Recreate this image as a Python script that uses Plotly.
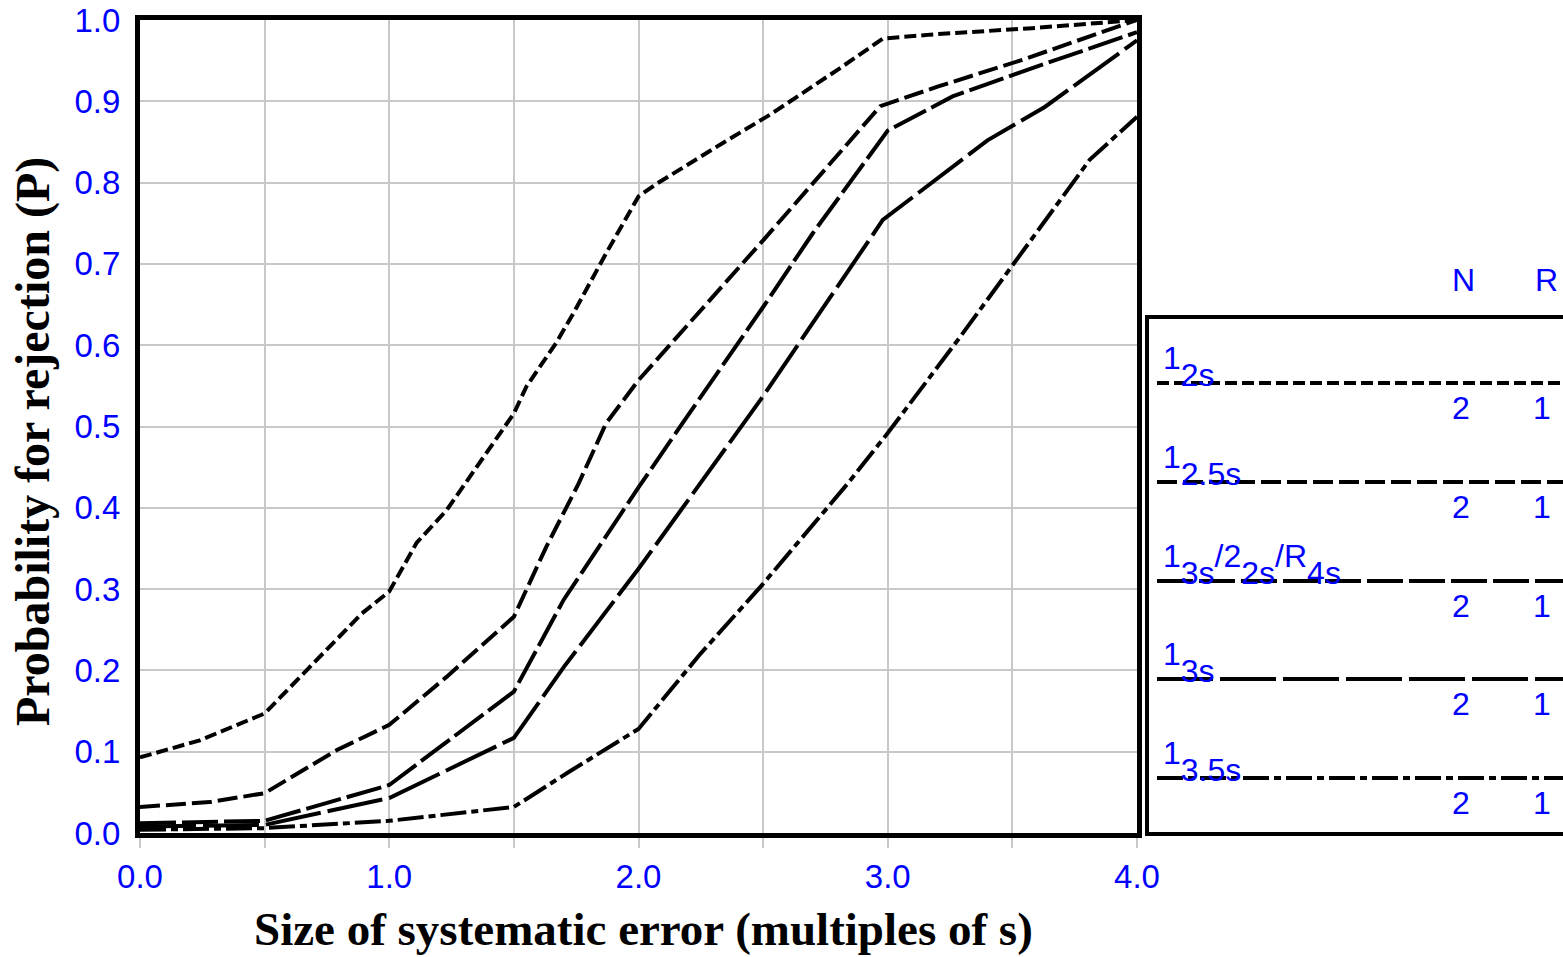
import plotly.graph_objects as go

# ---------------- data ----------------
x_12s = [0, 0.24, 0.5, 0.89, 1.0, 1.11, 1.23, 1.37, 1.5, 1.55, 1.67, 1.74, 1.87, 2.0, 2.07, 2.34, 2.53, 2.80, 2.98, 3.17, 3.33, 3.58, 4.0]
y_12s = [0.093, 0.114, 0.147, 0.27, 0.297, 0.357, 0.397, 0.459, 0.516, 0.549, 0.603, 0.64, 0.713, 0.783, 0.798, 0.849, 0.884, 0.939, 0.977, 0.982, 0.985, 0.99, 1.0]

x_125s = [0, 0.28, 0.5, 0.6, 0.79, 1.0, 1.23, 1.5, 1.63, 1.76, 1.87, 2.0, 2.5, 2.97, 3.2, 3.53, 4.0]
y_125s = [0.032, 0.038, 0.049, 0.067, 0.102, 0.133, 0.192, 0.266, 0.352, 0.43, 0.504, 0.557, 0.729, 0.894, 0.918, 0.95, 1.0]

x_multi = [0, 0.5, 1.0, 1.5, 1.7, 2.0, 2.19, 2.5, 2.7, 3.0, 3.26, 3.6, 4.0]
y_multi = [0.012, 0.015, 0.059, 0.174, 0.287, 0.425, 0.51, 0.647, 0.738, 0.864, 0.906, 0.943, 0.985]

x_13s = [0, 0.5, 1.0, 1.5, 1.7, 2.0, 2.17, 2.49, 2.98, 3.4, 3.63, 4.0]
y_13s = [0.008, 0.01, 0.043, 0.117, 0.204, 0.325, 0.397, 0.533, 0.754, 0.852, 0.893, 0.975]

x_135s = [0, 0.5, 1.0, 1.5, 1.72, 2.0, 2.25, 2.49, 2.84, 3.0, 3.29, 3.48, 3.81, 4.0]
y_135s = [0.004, 0.006, 0.015, 0.032, 0.075, 0.128, 0.221, 0.303, 0.43, 0.492, 0.61, 0.689, 0.828, 0.881]

rule_labels = ["1_2s", "1_2.5s", "1_3s/2_2s/R_4s", "1_3s", "1_3.5s"]
n_values = ["2", "2", "2", "2", "2"]
r_values = ["1", "1", "1", "1", "1"]

x_tickvals = [0, 0.5, 1.0, 1.5, 2.0, 2.5, 3.0, 3.5, 4.0]
x_ticktext = ["0.0", "", "1.0", "", "2.0", "", "3.0", "", "4.0"]
y_tickvals = [0, 0.1, 0.2, 0.3, 0.4, 0.5, 0.6, 0.7, 0.8, 0.9, 1.0]
y_ticktext = ["0.0", "0.1", "0.2", "0.3", "0.4", "0.5", "0.6", "0.7", "0.8", "0.9", "1.0"]

# ---------------- styles ----------------
series = [
    (x_12s, y_12s, "12px,5px"),
    (x_125s, y_125s, "20px,6px"),
    (x_multi, y_multi, "36px,6px"),
    (x_13s, y_13s, "56px,7px"),
    (x_135s, y_135s, "26px,5px,7px,5px"),
]

BLUE = "#0000ff"
SANS = "Liberation Sans, Arial, sans-serif"
SERIF = "Liberation Serif, Times New Roman, serif"
TICK_SIZE = 33
LEG_SIZE = 32
W, H = 1563, 957
L, R, T, B = 140, 1137, 20, 833


def px(x):
    return (x - L) / (R - L)


def py(y):
    return (B - y) / (B - T)


fig = go.Figure()
for xs, ys, dash in series:
    fig.add_trace(go.Scatter(x=xs, y=ys, mode="lines",
                             line=dict(color="black", width=4, dash=dash),
                             showlegend=False, hoverinfo="skip"))

fig.update_layout(
    width=W, height=H,
    margin=dict(l=L, r=W - R, t=T, b=H - B, autoexpand=False),
    plot_bgcolor="white", paper_bgcolor="white",
    showlegend=False,
    font=dict(family=SANS, color=BLUE, size=TICK_SIZE),
)
fig.update_xaxes(
    range=[0, 4], tickmode="array", tickvals=x_tickvals, ticktext=x_ticktext,
    showgrid=True, gridcolor="#c8c8c8", gridwidth=2, zeroline=False,
    showline=True, linecolor="black", linewidth=5, mirror=True,
    ticks="outside", ticklen=10, tickwidth=2, tickcolor="#c8c8c8",
    tickfont=dict(family=SANS, color=BLUE, size=TICK_SIZE),
    ticklabelstandoff=0, ticklabeloverflow="allow", automargin=False,
)
fig.update_yaxes(
    range=[0, 1], tickmode="array", tickvals=y_tickvals, ticktext=y_ticktext,
    showgrid=True, gridcolor="#c8c8c8", gridwidth=2, zeroline=False,
    showline=True, linecolor="black", linewidth=5, mirror=True,
    ticks="", tickfont=dict(family=SANS, color=BLUE, size=TICK_SIZE),
    ticklabelstandoff=8, ticklabeloverflow="allow", automargin=False,
)

annotations = []
shapes = []

# axis titles
annotations.append(dict(text="<b>Size of systematic error (multiples of s)</b>",
                        xref="paper", yref="paper", x=px(643), y=py(929),
                        xanchor="center", yanchor="middle", showarrow=False,
                        font=dict(family=SERIF, size=47, color="black")))
annotations.append(dict(text="<b>Probability for rejection (P)</b>",
                        xref="paper", yref="paper", x=px(33), y=py(442),
                        xanchor="center", yanchor="middle", showarrow=False,
                        textangle=-90,
                        font=dict(family=SERIF, size=48, color="black")))

# legend box
shapes.append(dict(type="rect", xref="paper", yref="paper",
                   x0=px(1147), x1=px(1600), y0=py(834), y1=py(317),
                   line=dict(color="black", width=4), fillcolor="rgba(0,0,0,0)"))

# legend header
annotations.append(dict(text="N", xref="paper", yref="paper", x=px(1463), y=py(280),
                        xanchor="center", yanchor="middle", showarrow=False,
                        font=dict(family=SANS, size=LEG_SIZE, color=BLUE)))
annotations.append(dict(text="R", xref="paper", yref="paper", x=px(1546), y=py(280),
                        xanchor="center", yanchor="middle", showarrow=False,
                        font=dict(family=SANS, size=LEG_SIZE, color=BLUE)))


def rich(label):
    # label like "1_3s/2_2s/R_4s" -> normal + subscript parts at equal size
    out = ""
    parts = label.split("/")
    for i, p in enumerate(parts):
        main, sub = p.split("_")
        if i > 0:
            main = "/" + main
        out += '<span style="font-size:%dpx">%s</span>' % (LEG_SIZE, main)
        out += '<sub><span style="font-size:%dpx">%s</span></sub>' % (LEG_SIZE, sub)
    return out


line_ys = [383, 482, 581, 679, 778]
for i, (lab, (_, _, dash)) in enumerate(zip(rule_labels, series)):
    ly = line_ys[i]
    shapes.append(dict(type="line", xref="paper", yref="paper",
                       x0=px(1157), x1=px(1600), y0=py(ly), y1=py(ly),
                       line=dict(color="black", width=4, dash=dash)))
    annotations.append(dict(text=rich(lab), xref="paper", yref="paper",
                            x=px(1161), y=py(ly - 17), xanchor="left", yanchor="middle",
                            showarrow=False,
                            font=dict(family=SANS, size=81, color=BLUE)))
    annotations.append(dict(text=n_values[i], xref="paper", yref="paper",
                            x=px(1461), y=py(ly + 25), xanchor="center", yanchor="middle",
                            showarrow=False, font=dict(family=SANS, size=LEG_SIZE, color=BLUE)))
    annotations.append(dict(text=r_values[i], xref="paper", yref="paper",
                            x=px(1542), y=py(ly + 25), xanchor="center", yanchor="middle",
                            showarrow=False, font=dict(family=SANS, size=LEG_SIZE, color=BLUE)))

fig.update_layout(annotations=annotations, shapes=shapes)
fig.write_html("out.html")
